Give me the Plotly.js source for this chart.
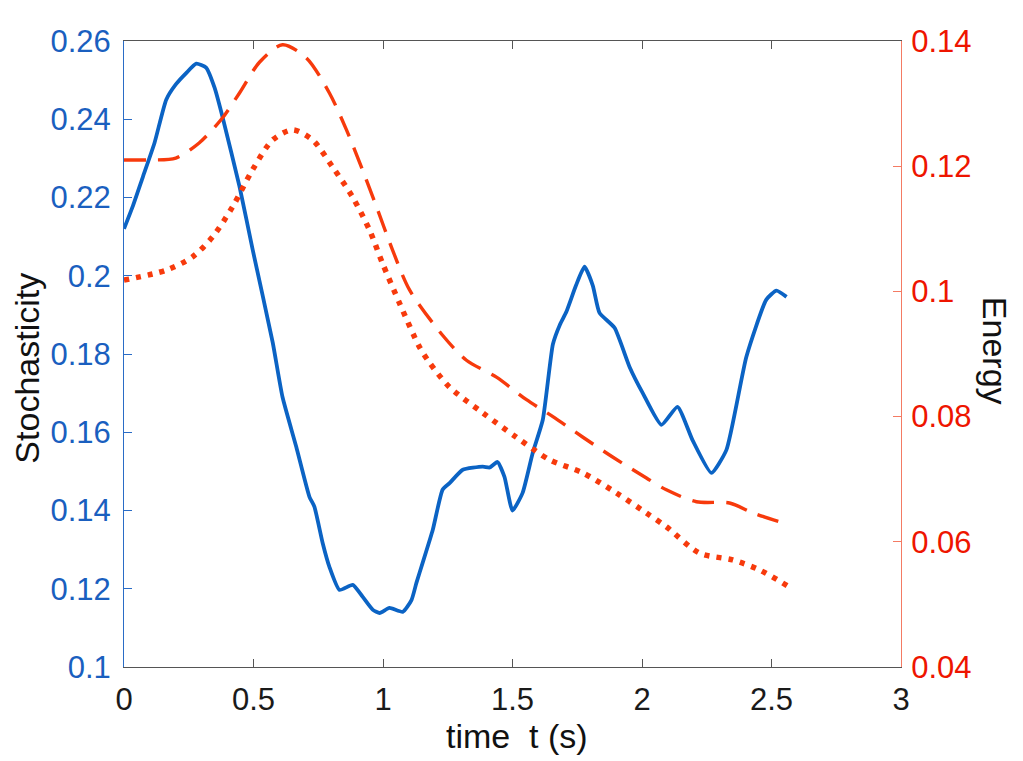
<!DOCTYPE html>
<html>
<head>
<meta charset="utf-8">
<script src="https://cdn.plot.ly/plotly-3.0.1.min.js"></script>
<style>
  html, body { margin: 0; padding: 0; background: #fff; }
  #myDiv { width: 1023px; height: 761px; }
</style>
</head>
<body>
<div id="myDiv"></div>
<script>
// Stochasticity (left axis), solid blue
var tStoch = [0, 0.033, 0.073, 0.118, 0.163, 0.2, 0.24, 0.279, 0.317, 0.35, 0.38, 0.446, 0.497,
    0.574, 0.612, 0.665, 0.716, 0.735, 0.767, 0.793, 0.832, 0.883, 0.921, 0.961, 0.987, 1.025,
    1.076, 1.11, 1.129, 1.153, 1.192, 1.23, 1.257, 1.308, 1.385, 1.412, 1.442, 1.469, 1.5, 1.539,
    1.578, 1.617, 1.656, 1.683, 1.708, 1.745, 1.778, 1.81, 1.836, 1.894, 1.952, 2.003, 2.075,
    2.137, 2.195, 2.268, 2.326, 2.403, 2.48, 2.519, 2.558];
var stoch = [0.212, 0.2176, 0.2253, 0.234, 0.245, 0.2489, 0.2518, 0.2542, 0.2532, 0.248, 0.2407,
    0.2228, 0.2066, 0.183, 0.169, 0.1563, 0.1435, 0.141, 0.1317, 0.1256, 0.1197, 0.121, 0.118,
    0.1146, 0.1138, 0.1151, 0.1141, 0.1171, 0.1215, 0.1266, 0.135, 0.1453, 0.147, 0.1504, 0.1512,
    0.151, 0.1524, 0.1486, 0.140, 0.1445, 0.1547, 0.1632, 0.1825, 0.1875, 0.1908, 0.1975, 0.2023,
    0.1975, 0.1905, 0.1867, 0.1767, 0.170, 0.1619, 0.1665, 0.158, 0.1496, 0.1555, 0.1793, 0.1939,
    0.1962, 0.1946];

// Energy (right axis), dashed red
var tDash = [0, 0.1, 0.2, 0.29, 0.38, 0.446, 0.523, 0.612, 0.704, 0.793, 0.859, 0.921, 0.975,
    1.037, 1.103, 1.23, 1.322, 1.438, 1.554, 1.656, 1.772, 1.888, 2.017, 2.094, 2.21, 2.338,
    2.429, 2.56];
var energyDash = [0.121, 0.121, 0.1213, 0.1237, 0.1277, 0.1317, 0.1366, 0.1394, 0.1373, 0.1317,
    0.1258, 0.1194, 0.1135, 0.1066, 0.1002, 0.093, 0.089, 0.0863, 0.0827, 0.080, 0.0767, 0.0735,
    0.0702, 0.0683, 0.0664, 0.0662, 0.0646, 0.0628];

// Energy (right axis), dotted red
var tDot = [0, 0.163, 0.264, 0.342, 0.419, 0.496, 0.574, 0.651, 0.728, 0.805, 0.882, 0.948,
    0.998, 1.064, 1.141, 1.18, 1.257, 1.385, 1.515, 1.643, 1.772, 1.901, 2.017, 2.094, 2.222,
    2.35, 2.454, 2.56];
var energyDot = [0.1018, 0.1034, 0.1055, 0.1087, 0.1135, 0.1194, 0.1242, 0.1258, 0.1242, 0.1199,
    0.1151, 0.1098, 0.1045, 0.0981, 0.0911, 0.0886, 0.0847, 0.0806, 0.0767, 0.0731, 0.071, 0.0678,
    0.0646, 0.0624, 0.0582, 0.0571, 0.0555, 0.053];

var xTicks = [0, 0.5, 1, 1.5, 2, 2.5, 3];
var xTickText = ['0', '0.5', '1', '1.5', '2', '2.5', '3'];
var leftTicks = [0.1, 0.12, 0.14, 0.16, 0.18, 0.2, 0.22, 0.24, 0.26];
var leftTickText = ['0.1', '0.12', '0.14', '0.16', '0.18', '0.2', '0.22', '0.24', '0.26'];
var rightTicks = [0.04, 0.06, 0.08, 0.1, 0.12, 0.14];
var rightTickText = ['0.04', '0.06', '0.08', '0.1', '0.12', '0.14'];

var blue = '#0B63C4';
var red = '#F73A0C';
var font = 'Liberation Sans, Arial, sans-serif';

var data = [
    {
        type: 'scatter', mode: 'lines', x: tDash, y: energyDash, yaxis: 'y2',
        line: {color: red, width: 3.4, dash: '22px,12px', shape: 'spline', smoothing: 0.8}
    },
    {
        type: 'scatter', mode: 'lines', x: tDot, y: energyDot, yaxis: 'y2',
        line: {color: red, width: 5.5, dash: '5px,7px', shape: 'spline', smoothing: 0.8}
    },
    {
        type: 'scatter', mode: 'lines', x: tStoch, y: stoch,
        line: {color: blue, width: 3.8, shape: 'spline', smoothing: 0.5}
    }
];

var layout = {
    width: 1023,
    height: 761,
    showlegend: false,
    paper_bgcolor: '#fff',
    plot_bgcolor: '#fff',
    margin: {l: 124, r: 122, t: 41, b: 94},
    font: {family: font, size: 31, color: '#222'},
    xaxis: {
        range: [0, 3],
        tickvals: xTicks,
        ticktext: xTickText,
        showgrid: false,
        zeroline: false,
        showline: true,
        linecolor: '#555',
        linewidth: 1,
        mirror: 'ticks',
        ticks: 'inside',
        ticklen: 8,
        tickcolor: '#555',
        ticklabelstandoff: 5,
        tickfont: {family: font, size: 31, color: '#1a1a1a'}
    },
    yaxis: {
        range: [0.1, 0.26],
        tickvals: leftTicks,
        ticktext: leftTickText,
        showgrid: false,
        zeroline: false,
        showline: true,
        linecolor: '#2A6CC6',
        linewidth: 1,
        ticks: 'inside',
        ticklen: 8,
        tickcolor: '#2A6CC6',
        ticklabelstandoff: 6,
        tickfont: {family: font, size: 31, color: '#1A5FBF'}
    },
    yaxis2: {
        range: [0.04, 0.14],
        tickvals: rightTicks,
        ticktext: rightTickText,
        overlaying: 'y',
        side: 'right',
        showgrid: false,
        zeroline: false,
        showline: true,
        linecolor: '#F47B63',
        linewidth: 1,
        ticks: 'inside',
        ticklen: 8,
        tickcolor: '#F47B63',
        ticklabelstandoff: 3,
        tickfont: {family: font, size: 31, color: '#EE1500'}
    },
    annotations: [
        {
            text: 'Stochasticity', xref: 'paper', yref: 'paper', x: -0.125, y: 0.478,
            xanchor: 'center', yanchor: 'middle', textangle: -90, showarrow: false,
            font: {family: font, size: 34, color: '#111'}
        },
        {
            text: 'Energy', xref: 'paper', yref: 'paper', x: 1.121, y: 0.505,
            xanchor: 'center', yanchor: 'middle', textangle: 90, showarrow: false,
            font: {family: font, size: 34, color: '#111'}
        },
        {
            text: 'time  t (s)', xref: 'paper', yref: 'paper', x: 0.506, y: -0.11,
            xanchor: 'center', yanchor: 'middle', showarrow: false,
            font: {family: font, size: 34, color: '#111'}
        }
    ]
};

Plotly.newPlot('myDiv', data, layout, {staticPlot: true});
</script>
</body>
</html>
